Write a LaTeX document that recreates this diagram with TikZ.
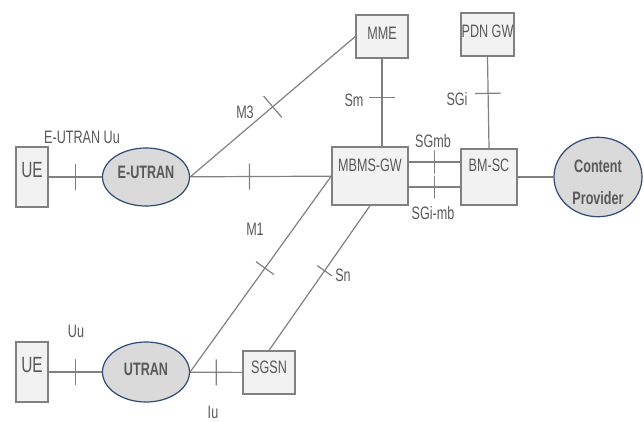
\documentclass[tikz,border=0pt]{standalone}
\usepackage{fontspec}
\setmainfont{Liberation Sans}[FakeStretch=0.7]
\usepackage{tikz}
\usetikzlibrary{shapes.geometric,positioning,calc}
\definecolor{nwLine}{HTML}{808080}
\definecolor{nwText}{HTML}{595959}
\definecolor{nwBox}{HTML}{F2F2F2}
\definecolor{nwRan}{HTML}{DADADA}
\definecolor{nwEdge}{HTML}{2E4A75}
\newcommand{\lblfont}{\fontsize{18}{22}\selectfont}
\tikzset{
    % network elements
    entity/.style={rectangle, draw=nwLine, fill=nwBox, line width=1.3pt, inner sep=0pt, text=nwText, font=\lblfont, text height=13pt},
    ran/.style={ellipse, draw=nwEdge, fill=nwRan, line width=1.2pt, inner sep=0pt, text=nwText, font=\lblfont\bfseries, minimum width=87pt},
    % interfaces
    link/.style={draw=nwLine, line width=1.2pt},
    ifmark/.style={rectangle, draw=nwLine, line width=1.2pt, inner sep=0pt, minimum width=0pt, minimum height=26pt, sloped},
    iflabel/.style={text=nwText, font=\lblfont, inner sep=0pt}
}

\begin{document}
\begin{tikzpicture}[x=1pt, y=-1pt]
    \useasboundingbox (0,0) rectangle (644,422);

    % E-UTRAN access
    \node[entity, minimum width=32pt, minimum height=60pt, font=\fontsize{22}{26}\selectfont, text height=16pt, text depth=16pt] (ue1) at (32,177) {UE};
    \node[ran, minimum height=58pt, text height=13pt, text depth=10pt] (eutran) at (146,177) {E-UTRAN};

    % Core
    \node[entity, minimum width=52pt, minimum height=43pt, text depth=6pt] (mme) at (382,36.5) {MME};
    \node[entity, minimum width=53pt, minimum height=43pt, text depth=7pt] (pdngw) at (487.5,34.5) {PDN GW};
    \node[entity, minimum width=76pt, minimum height=58pt, text depth=22pt] (mbms) at (370,176) {MBMS-GW};
    \node[entity, minimum width=56pt, minimum height=56pt, text depth=24pt] (bmsc) at (489,177) {BM-SC};
    \node[ran, minimum width=88pt, minimum height=79pt, align=center, font=\fontsize{18}{32}\selectfont\bfseries] (cp) at (598,177) {\rule{0pt}{24pt}Content\\Provider};

    % UTRAN access
    \node[entity, minimum width=32pt, minimum height=60pt, font=\fontsize{22}{26}\selectfont, text height=16pt, text depth=16pt] (ue2) at (32,372) {UE};
    \node[ran, minimum height=60pt, text height=13pt, text depth=7pt] (utran) at (146,372) {UTRAN};
    \node[entity, minimum width=52pt, minimum height=43pt, text depth=12pt] (sgsn) at (269,372.5) {SGSN};

    % Interfaces
    \draw[link] (ue1) -- node[ifmark] (uue) {} (eutran);
    \draw[link] (eutran) -- node[ifmark, pos=0.42] (m1e) {} (mbms);
    \draw[link] (eutran.east) -- node[ifmark, pos=0.5, minimum height=28pt] (m3) {} (mme.west);
    \draw[link] (mme.south) -- node[ifmark, pos=0.44] (sm) {} (mme.south |- mbms.north);
    \draw[link] (pdngw.south) -- node[ifmark, pos=0.4] (sgi) {} (bmsc.north);
    \draw[link] ([yshift=14pt]mbms.east) -- node[ifmark, minimum height=23pt] (sgmb) {} ([yshift=14pt]mbms.east -| bmsc.west);
    \draw[link] ([yshift=-11pt]mbms.east) -- node[ifmark, minimum height=23pt] (sgimb) {} ([yshift=-11pt]mbms.east -| bmsc.west);
    \draw[link] (bmsc) -- (cp);
    \draw[link] (ue2) -- node[ifmark] (uu) {} (utran);
    \draw[link] (utran) -- node[ifmark] (iu) {} (sgsn);
    \draw[link] (utran.east) -- node[ifmark, pos=0.53, minimum height=22pt] (m1) {} (mbms.west);
    \draw[link] (sgsn.north) -- node[ifmark, pos=0.55, minimum height=18pt] (sn) {} (mbms.south);

    % Interface labels
    \node[iflabel] (luue) at (82,137) {E-UTRAN Uu};
    \node[iflabel] (lm3) at (245,112) {M3};
    \node[iflabel] (lsm) at (354,100) {Sm};
    \node[iflabel] (lsgi) at (457,99) {SGi};
    \node[iflabel] (lsgmb) at (433,141) {SGmb};
    \node[iflabel] (lsgimb) at (433,213) {SGi-mb};
    \node[iflabel] (lm1) at (255,229) {M1};
    \node[iflabel] (lsn) at (343,275) {Sn};
    \node[iflabel] (luu) at (76,331) {Uu};
    \node[iflabel] (liu) at (213,412) {Iu};

\end{tikzpicture}
\end{document}
